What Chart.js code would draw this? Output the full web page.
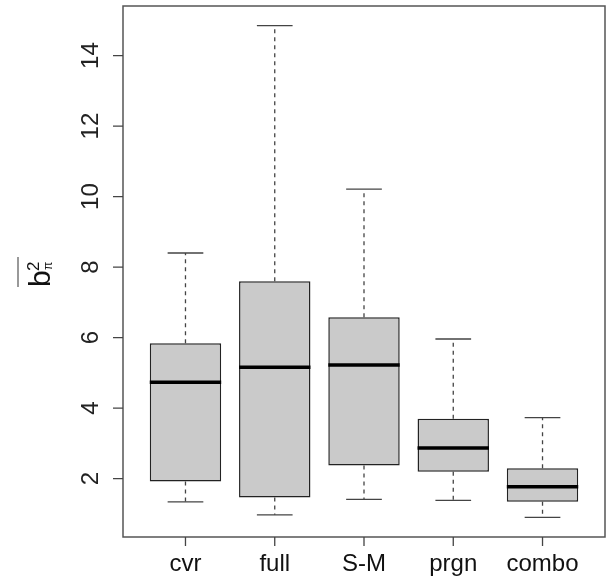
<!DOCTYPE html>
<html>
<head>
<meta charset="utf-8">
<script src="https://cdn.jsdelivr.net/npm/chart.js@4/dist/chart.umd.min.js"></script>
<style>
html,body{margin:0;padding:0;background:#fff;}
#wrap{width:616px;height:584px;position:relative;}
</style>
</head>
<body>
<div id="wrap"><canvas id="c"></canvas></div>
<script>
const categories = ['cvr', 'full', 'S-M', 'prgn', 'combo'];
const whiskerLow  = [1.34, 0.97, 1.41, 1.38, 0.90];
const q1          = [1.92, 1.46, 2.37, 2.19, 1.34];
const median      = [4.73, 5.16, 5.22, 2.87, 1.77];
const q3          = [5.84, 7.60, 6.58, 3.70, 2.29];
const whiskerHigh = [8.40, 14.85, 10.21, 5.96, 3.73];
const yTicks = [2, 4, 6, 8, 10, 12, 14];

const FONT = "'Liberation Sans', Arial, Helvetica, sans-serif";
const n = categories.length;
const lo = Math.min(...whiskerLow), hi = Math.max(...whiskerHigh);
const yPad = 0.04 * (hi - lo);
const xPad = 0.04 * n;
const BOXW = 0.8;

const boxPlugin = {
  id: 'boxparts',
  beforeDatasetsDraw(chart) {
    const {ctx, scales: {x, y}} = chart;
    ctx.save();
    ctx.strokeStyle = '#444';
    ctx.lineWidth = 1.3;
    for (let i = 0; i < n; i++) {
      const cx = x.getPixelForValue(i + 1);
      ctx.setLineDash([4, 4]);
      ctx.beginPath();
      ctx.moveTo(cx, y.getPixelForValue(q3[i]));
      ctx.lineTo(cx, y.getPixelForValue(whiskerHigh[i]));
      ctx.moveTo(cx, y.getPixelForValue(q1[i]));
      ctx.lineTo(cx, y.getPixelForValue(whiskerLow[i]));
      ctx.stroke();
      ctx.setLineDash([]);
      const a = x.getPixelForValue(i + 1 - BOXW / 4), b = x.getPixelForValue(i + 1 + BOXW / 4);
      ctx.beginPath();
      const yh = y.getPixelForValue(whiskerHigh[i]), yl = y.getPixelForValue(whiskerLow[i]);
      ctx.moveTo(a, yh); ctx.lineTo(b, yh);
      ctx.moveTo(a, yl); ctx.lineTo(b, yl);
      ctx.stroke();
    }
    ctx.restore();
  },
  afterDatasetsDraw(chart) {
    const {ctx, scales: {x, y}} = chart;
    ctx.save();
    ctx.strokeStyle = '#000';
    ctx.lineWidth = 3.5;
    for (let i = 0; i < n; i++) {
      const a = x.getPixelForValue(i + 1 - BOXW / 2), b = x.getPixelForValue(i + 1 + BOXW / 2);
      const ym = y.getPixelForValue(median[i]);
      ctx.beginPath(); ctx.moveTo(a, ym); ctx.lineTo(b, ym); ctx.stroke();
    }
    ctx.restore();
  },
  afterDraw(chart) {
    const {ctx, chartArea: ca, scales: {x, y}} = chart;
    ctx.save();
    ctx.strokeStyle = '#555';
    ctx.lineWidth = 1.5;
    ctx.strokeRect(ca.left, ca.top, ca.right - ca.left, ca.bottom - ca.top);
    ctx.strokeStyle = '#444';
    ctx.lineWidth = 1.3;
    ctx.beginPath();
    categories.forEach((c, i) => {
      const px = x.getPixelForValue(i + 1);
      ctx.moveTo(px, ca.bottom); ctx.lineTo(px, ca.bottom + 9);
    });
    yTicks.forEach(v => {
      const py = y.getPixelForValue(v);
      ctx.moveTo(ca.left - 10, py); ctx.lineTo(ca.left, py);
    });
    ctx.stroke();
    ctx.fillStyle = '#222';
    ctx.font = '24px ' + FONT;
    ctx.textAlign = 'center';
    ctx.textBaseline = 'middle';
    yTicks.forEach(v => {
      const py = y.getPixelForValue(v);
      ctx.save();
      ctx.translate(91, py);
      ctx.rotate(-Math.PI / 2);
      ctx.fillText(String(v), 0, 0);
      ctx.restore();
    });
    ctx.save();
    ctx.translate(50, 287);
    ctx.rotate(-Math.PI / 2);
    ctx.textAlign = 'left';
    ctx.textBaseline = 'alphabetic';
    ctx.fillStyle = '#111';
    ctx.font = '30px ' + FONT;
    ctx.fillText('b', 0, 0);
    ctx.font = '17px ' + FONT;
    ctx.fillText('2', 16, -11);
    ctx.font = '12px ' + FONT;
    ctx.fillText('\u03c0', 17, 2);
    ctx.strokeStyle = '#777';
    ctx.lineWidth = 1.5;
    ctx.beginPath(); ctx.moveTo(0, -32); ctx.lineTo(30, -32); ctx.stroke();
    ctx.restore();
    ctx.restore();
  }
};

new Chart(document.getElementById('c'), {
  type: 'bar',
  data: {
    datasets: [{
      data: categories.map((c, i) => ({x: i + 1, y: [q1[i], q3[i]]})),
      backgroundColor: '#cacaca',
      borderColor: '#222',
      borderWidth: 1.5,
      borderSkipped: false,
      barPercentage: BOXW,
      categoryPercentage: 1
    }]
  },
  options: {
    responsive: true,
    maintainAspectRatio: false,
    animation: false,
    layout: {padding: {top: 6, right: 11, left: 0, bottom: 0}},
    plugins: {legend: {display: false}, tooltip: {enabled: false}},
    scales: {
      x: {
        type: 'linear',
        min: 0.5 - xPad,
        max: n + 0.5 + xPad,
        offset: false,
        afterBuildTicks: s => { s.ticks = categories.map((c, i) => ({value: i + 1})); },
        afterFit: s => { s.height = 47; },
        grid: {display: false, offset: false, tickLength: 9},
        border: {display: false},
        ticks: {
          callback: v => categories[Math.round(v) - 1] || '',
          font: {size: 24, family: FONT},
          color: '#111',
          padding: 4,
          maxRotation: 0,
          autoSkip: false
        }
      },
      y: {
        type: 'linear',
        min: lo - yPad,
        max: hi + yPad,
        afterBuildTicks: s => { s.ticks = yTicks.map(v => ({value: v})); },
        afterFit: s => { s.width = 123; s.paddingTop = 0; s.paddingBottom = 0; },
        grid: {display: false},
        border: {display: false},
        ticks: {color: 'rgba(0,0,0,0)', font: {size: 1, family: FONT}, padding: 0}
      }
    }
  },
  plugins: [boxPlugin]
});
</script>
</body>
</html>
